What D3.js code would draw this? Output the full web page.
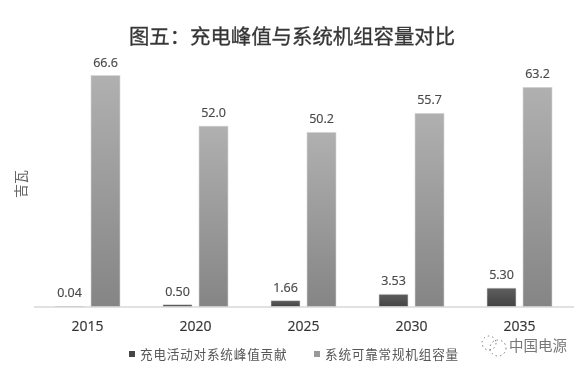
<!DOCTYPE html>
<html lang="zh">
<head>
    <meta charset="UTF-8">
    <title>图五</title>
    <script src="https://cdn.jsdelivr.net/npm/d3@7/dist/d3.min.js"></script>
    <style>
        html, body { margin: 0; padding: 0; background: #fff; }
        svg { display: block; }
        text { font-family: "Noto Sans CJK SC", sans-serif; }
        .num { font-family: "Open Sans", sans-serif; }
    </style>
</head>
<body>
    <script>
        // data
        var years = ['2015', '2020', '2025', '2030', '2035'];
        var seriesNames = ['充电活动对系统峰值贡献', '系统可靠常规机组容量'];
        var chargeValues = [0.04, 0.50, 1.66, 3.53, 5.30];
        var capacityValues = [66.6, 52.0, 50.2, 55.7, 63.2];
        var chargeLabels = ['0.04', '0.50', '1.66', '3.53', '5.30'];
        var capacityLabels = ['66.6', '52.0', '50.2', '55.7', '63.2'];

        var w = 585;
        var h = 366;

        var svg = d3.select('body')
                    .append('svg')
                    .attr('width', w)
                    .attr('height', h);

        var defs = svg.append('defs');

        // the reference is a soft, slightly blurred scan
        defs.append('filter')
            .attr('id', 'soft')
            .append('feGaussianBlur')
            .attr('stdDeviation', 0.4);

        function addGradient(id, top, bottom) {
            var g = defs.append('linearGradient')
                        .attr('id', id)
                        .attr('x1', 0).attr('y1', 0)
                        .attr('x2', 0).attr('y2', 1);
            g.append('stop').attr('offset', '0%').attr('stop-color', top);
            g.append('stop').attr('offset', '100%').attr('stop-color', bottom);
        }
        addGradient('dark-fill', '#5e5e5e', '#444444');
        addGradient('light-fill', '#b0b0b0', '#858585');

        //create scales
        var xScale = d3.scaleBand()
                        .domain(years)
                        .range([33.5, 573.5]);

        var innerScale = d3.scaleBand()
                        .domain(seriesNames)
                        .range([21.5, 86.5])
                        .paddingInner(7 / 36);

        var yScale = d3.scaleLinear()
                        .domain([0, 66.6])
                        .range([306.5, 75.5]);

        var chart = svg.append('g').attr('filter', 'url(#soft)');

        //bars and labels, one series at a time
        function drawSeries(values, labels, name, fill, cls) {
            var rows = years.map(function(y, i) {
                return { year: y, value: values[i], label: labels[i] };
            });

            chart.append('g')
                .attr('class', cls)
                .selectAll('rect')
                .data(rows)
                .enter()
                .append('rect')
                .attr('x', function(d) { return xScale(d.year) + innerScale(name); })
                .attr('y', function(d) { return yScale(d.value); })
                .attr('width', innerScale.bandwidth())
                .attr('height', function(d) { return yScale(0) - yScale(d.value); })
                .attr('fill', fill)
                .attr('stroke', '#d8d8d8')
                .attr('stroke-width', 0.6);

            chart.append('g')
                .selectAll('text')
                .data(rows)
                .enter()
                .append('text')
                .attr('class', 'num')
                .attr('x', function(d) { return xScale(d.year) + innerScale(name) + innerScale.bandwidth() / 2; })
                .attr('y', function(d) { return yScale(d.value) - 9; })
                .attr('text-anchor', 'middle')
                .attr('font-size', 12.5)
                .attr('font-weight', 400)
                .attr('stroke', '#555')
                .attr('stroke-width', 0.2)
                .attr('fill', '#444')
                .text(function(d) { return d.label; });
        }
        drawSeries(chargeValues, chargeLabels, seriesNames[0], 'url(#dark-fill)', 'charge');
        drawSeries(capacityValues, capacityLabels, seriesNames[1], 'url(#light-fill)', 'capacity');

        //x axis
        var xAxis = d3.axisBottom(xScale)
                        .tickSize(0)
                        .tickPadding(15);

        var axisG = chart.append('g')
            .attr('class', 'x axis')
            .attr('transform', 'translate(0,' + yScale(0) + ')')
            .call(xAxis);
        axisG.select('.domain').attr('stroke', '#c4c4c4').attr('stroke-width', 1);
        axisG.selectAll('text')
            .attr('class', 'num')
            .attr('font-size', 14)
            .attr('font-weight', 400)
            .attr('stroke', '#444')
            .attr('stroke-width', 0.2)
            .attr('fill', '#333');

        //title
        chart.append('text')
            .attr('x', 292)
            .attr('y', 44)
            .attr('text-anchor', 'middle')
            .attr('font-size', 20.4)
            .attr('font-weight', 400)
            .attr('stroke', '#444')
            .attr('stroke-width', 0.35)
            .attr('fill', '#333')
            .text('图五：充电峰值与系统机组容量对比');

        //y label
        chart.append('text')
            .attr('transform', 'translate(26,184) rotate(-90)')
            .attr('text-anchor', 'middle')
            .attr('font-size', 14)
            .attr('fill', '#666')
            .text('吉瓦');

        //legend
        var legendX = [129, 314];
        var legendColors = ['#444444', '#999999'];
        var legend = chart.append('g')
            .selectAll('g')
            .data(seriesNames)
            .enter()
            .append('g')
            .attr('transform', function(d, i) { return 'translate(' + legendX[i] + ',354)'; });

        legend.append('rect')
            .attr('x', 0).attr('y', -3)
            .attr('width', 6).attr('height', 6)
            .attr('fill', function(d, i) { return legendColors[i]; });

        legend.append('text')
            .attr('x', 11)
            .attr('y', 4.5)
            .attr('font-size', 12.6)
            .attr('letter-spacing', 0.8)
            .attr('fill', '#555')
            .text(function(d) { return d; });

        //watermark: two dotted speech bubbles plus the account name
        var mark = chart.append('g');
        var bubbleX = [489, 498];
        var bubbleY = [343, 348];
        var bubbleR = [7, 8];
        mark.selectAll('circle')
            .data(bubbleR)
            .enter()
            .append('circle')
            .attr('cx', function(d, i) { return bubbleX[i]; })
            .attr('cy', function(d, i) { return bubbleY[i]; })
            .attr('r', function(d) { return d; })
            .attr('fill', 'none')
            .attr('stroke', '#777')
            .attr('stroke-width', 1)
            .attr('stroke-dasharray', '1.5 3');

        mark.append('text')
            .attr('x', 509)
            .attr('y', 351)
            .attr('font-size', 14.5)
            .attr('fill', '#777')
            .text('中国电源');
    </script>
</body>
</html>
